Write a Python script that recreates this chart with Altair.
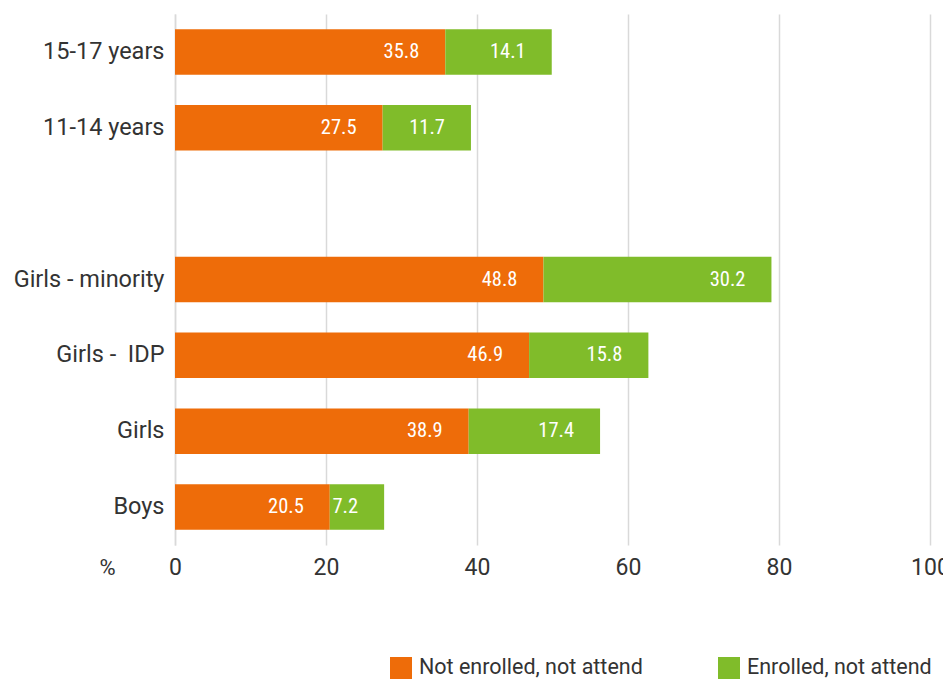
import altair as alt
import pandas as pd

categories = ["15-17 years", "11-14 years", "Girls - minority", "Girls - \u00a0IDP", "Girls", "Boys"]
not_enrolled = [35.8, 27.5, 48.8, 46.9, 38.9, 20.5]
enrolled = [14.1, 11.7, 30.2, 15.8, 17.4, 7.2]
series = ["Not enrolled, not attend", "Enrolled, not attend"]
colors = ["#EE6C09", "#80BC2A"]
y_domain = ["15-17 years", "11-14 years", " ", "Girls - minority", "Girls - \u00a0IDP", "Girls", "Boys"]

rows = []
for c, a, b in zip(categories, not_enrolled, enrolled):
    rows.append({"cat": c, "series": series[0], "value": a, "ord": 0})
    rows.append({"cat": c, "series": series[1], "value": b, "ord": 1})
df = pd.DataFrame(rows)

base = alt.Chart(df).transform_stack(
    stack="value", groupby=["cat"], as_=["x0", "x1"], sort=[alt.SortField("ord")]
)

yenc = alt.Y("cat:N", scale=alt.Scale(domain=y_domain, paddingInner=0.4, paddingOuter=0.2),
             axis=alt.Axis(title=None, labelFontSize=23.5, labelColor="#333333", labelFont="Roboto",
                           labelPadding=11, ticks=False, domainColor="#d9d9d9", domainWidth=1.5,
                           labelLimit=300))

bars = base.mark_bar().encode(
    x=alt.X("x0:Q", scale=alt.Scale(domain=[0, 100]),
            axis=alt.Axis(values=[0, 20, 40, 60, 80, 100], title="%", titleX=-68, titleY=22,
                          titleBaseline="middle", titleAlign="center", titleFontSize=22,
                          titleFontWeight="normal", titleFont="Roboto", titleColor="#333333",
                          labelFontSize=23, labelFont="Roboto", labelColor="#333333",
                          labelPadding=11, ticks=False, domain=False,
                          gridColor="#d9d9d9", gridWidth=1.5, labelFlush=False)),
    x2="x1:Q",
    y=yenc,
    color=alt.Color("series:N", scale=alt.Scale(domain=series, range=colors),
                    legend=alt.Legend(title=None, orient="none", legendX=215, legendY=643,
                                      direction="horizontal", symbolType="square", symbolSize=484,
                                      symbolStrokeWidth=0, symbolOpacity=1,
                                      labelFontSize=21.5, labelFont="Roboto",
                                      labelColor="#333333", columnPadding=75, labelOffset=7,
                                      padding=0, labelLimit=400)),
)

labels = base.mark_text(align="right", baseline="middle", dx=-26, color="white", fontSize=20.5,
                        font="Roboto Condensed, Liberation Sans Narrow, DejaVu Sans Condensed, Roboto").encode(
    x="x1:Q",
    y=alt.Y("cat:N", scale=alt.Scale(domain=y_domain)),
    text=alt.Text("value:Q", format=".1f"),
)

chart = alt.layer(bars, labels).properties(
    width=755, height=531,
    autosize=alt.AutoSizeParams(type="none"),
    padding={"left": 167, "top": 6, "right": 13, "bottom": 135},
).configure_view(stroke=None)

chart.save("out.html", embed_options={"renderer": "svg", "actions": False})
